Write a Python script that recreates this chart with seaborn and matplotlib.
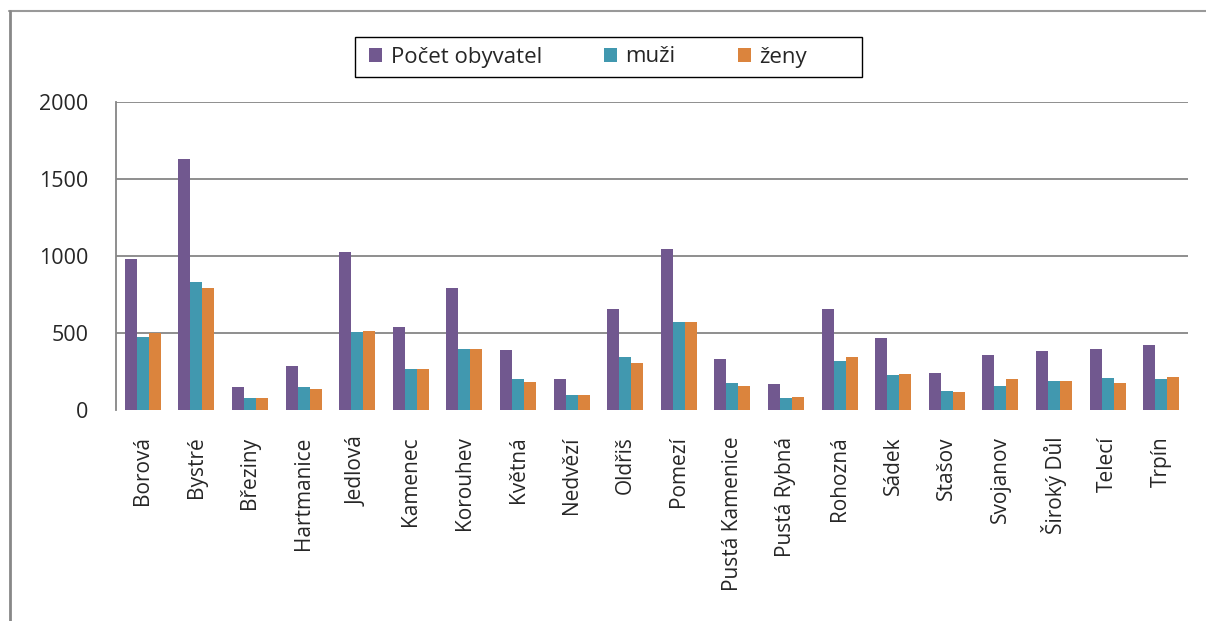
"""Počet obyvatel podle obcí - sloupcový graf"""
import matplotlib
matplotlib.use('Agg')
import matplotlib.pyplot as plt
from matplotlib.lines import Line2D
from matplotlib.patches import Rectangle
from matplotlib.ticker import FixedLocator
import numpy as np
import pandas as pd
import seaborn as sns

# data
obce = ['Borová', 'Bystré', 'Březiny', 'Hartmanice', 'Jedlová', 'Kamenec', 'Korouhev',
        'Květná', 'Nedvězí', 'Oldřiš', 'Pomezí', 'Pustá Kamenice', 'Pustá Rybná',
        'Rohozná', 'Sádek', 'Stašov', 'Svojanov', 'Široký Důl', 'Telecí', 'Trpín']
pocet = [980, 1630, 149, 286, 1026, 539, 792, 390, 201, 656, 1045, 331, 169, 656, 468, 240, 357, 383, 396, 422]
muzi = [474, 831, 78, 149, 506, 266, 396, 201, 97, 344, 571, 175, 78, 318, 227, 123, 156, 188, 208, 201]
zeny = [500, 792, 78, 136, 513, 266, 396, 182, 97, 305, 571, 156, 84, 344, 234, 117, 201, 188, 175, 214]
serie = ['Počet obyvatel', 'muži', 'ženy']
barvy = ['#71588F', '#4198AF', '#DB843D']

df = pd.DataFrame({
    'obec': obce * 3,
    'hodnota': pocet + muzi + zeny,
    'serie': [s for s in serie for _ in obce],
})

sns.set_style('white')
plt.rcParams['font.family'] = ['Open Sans', 'DejaVu Sans']

W, H = 1206, 621
fig = plt.figure(figsize=(W / 100, H / 100), dpi=100)
ax = fig.add_axes([116 / W, 1 - 410 / H, (1188 - 116) / W, 308 / H])

sns.barplot(data=df, x='obec', y='hodnota', hue='serie', palette=barvy, width=0.67,
            saturation=1, linewidth=0, errorbar=None, ax=ax)

grey = '#868686'
ax.set_ylim(0, 2000)
ax.set_yticks(range(0, 2001, 500))
ax.set_xlim(-0.5, len(obce) - 0.5)
ax.yaxis.grid(True, color=grey, lw=1.3)
ax.get_ygridlines()[0].set_visible(False)
ax.set_axisbelow(True)
ax.set(xlabel='', ylabel='')

for s in ['top', 'right', 'bottom']:
    ax.spines[s].set_visible(False)
ax.spines['left'].set_color(grey)
ax.spines['left'].set_linewidth(1.3)

ax.tick_params(axis='y', length=10, width=1.3, color=grey, pad=10, labelsize=15.5)
ax.tick_params(axis='x', which='major', length=0, pad=19, labelsize=15, labelrotation=90)
ax.xaxis.set_minor_locator(FixedLocator(np.arange(-0.5, len(obce), 1)))
ax.tick_params(axis='x', which='minor', length=7, width=1.3, color=grey)

# legenda nahoře s vlastním rámečkem
handles, labels = ax.get_legend_handles_labels()
ax.legend(handles, labels, loc='center left', bbox_to_anchor=(369 / W, 1 - 57 / H),
          bbox_transform=fig.transFigure, ncol=3, frameon=False, fontsize=16,
          handlelength=0.6, handleheight=0.6, handletextpad=0.37, columnspacing=2.8,
          borderpad=0, borderaxespad=0)
fig.add_artist(Rectangle((355 / W, 1 - 77 / H), 507 / W, 40 / H, transform=fig.transFigure,
                         fill=False, ec='black', lw=1))

# okraj grafu
fig.add_artist(Line2D([9 / W, 1], [1 - 11 / H] * 2, transform=fig.transFigure, color='#999999', lw=1.5))
fig.add_artist(Line2D([10 / W] * 2, [0, 1 - 11 / H], transform=fig.transFigure, color='#888888', lw=2))

fig.savefig('out.png', dpi=100)
